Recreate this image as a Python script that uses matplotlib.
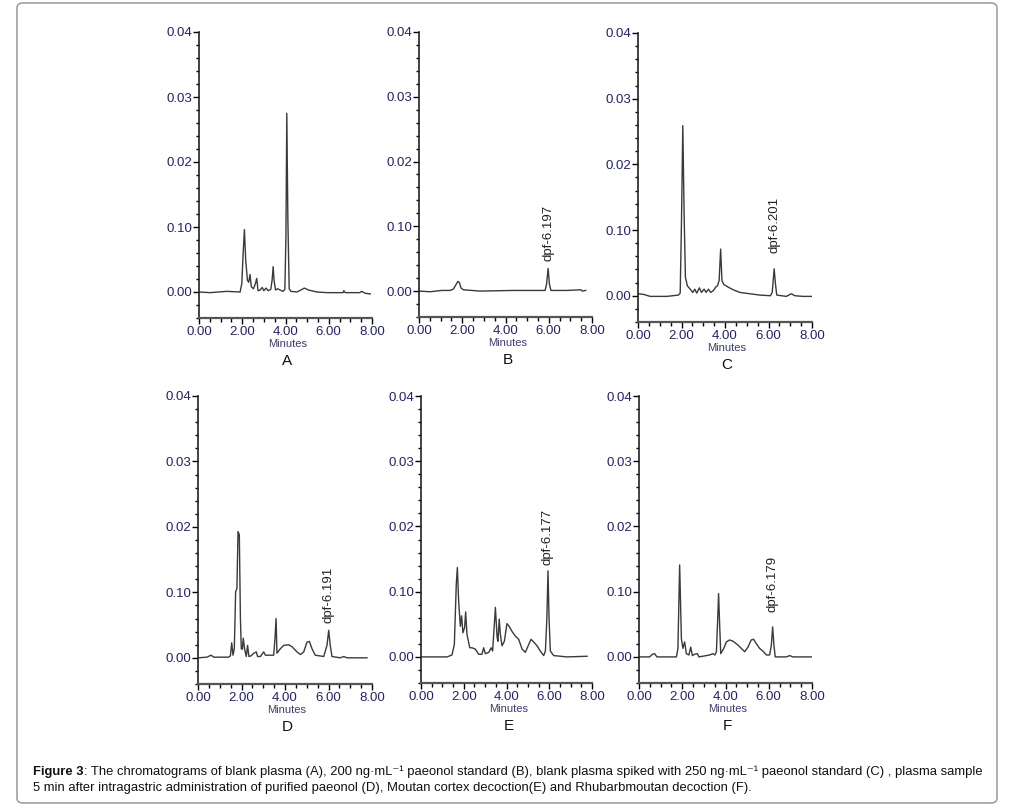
import matplotlib.pyplot as plt
from matplotlib.patches import FancyBboxPatch
from matplotlib.ticker import MultipleLocator, FixedLocator

plt.rcParams['font.family'] = ['Liberation Sans', 'DejaVu Sans']

# retention time (min) / absorbance
t_A = [0, 0.51, 1.28, 1.90, 1.98, 2.04, 2.10, 2.16, 2.24, 2.30, 2.36, 2.42, 2.52, 2.61, 2.67, 2.73,
       2.83, 2.92, 3.00, 3.10, 3.20, 3.32, 3.38, 3.43, 3.47, 3.54, 3.64, 3.75, 3.88, 3.97, 4.02,
       4.06, 4.11, 4.17, 4.25, 4.53, 4.76, 4.87, 5.07, 5.45, 5.92, 6.66, 6.70, 6.76, 7.43, 7.52,
       7.69, 7.92]
y_A = [0, -0.0001, 0.0001, 0, 0.0013, 0.0059, 0.0096, 0.0049, 0.0018, 0.0015, 0.0027, 0.0008,
       0.0005, 0.0013, 0.0021, 0.0002, 0.0003, 0.0007, 0.0002, 0.0006, 0.0002, 0.0004, 0.0018,
       0.0039, 0.0018, 0.0003, 0.0005, 0.0003, 0.0001, 0.0004, 0.0085, 0.0275, 0.0110, 0.0005,
       0.0001, 0, 0.0004, 0.0006, 0.0003, 0, -0.0001, -0.0001, 0.0002, -0.0001, -0.0001, 0.0001,
       -0.0002, -0.0003]

t_B = [0, 0.51, 1.05, 1.43, 1.59, 1.71, 1.80, 1.87, 1.94, 2.05, 2.82, 4.36, 5.83, 5.90, 5.97,
       6.03, 6.10, 6.83, 7.49, 7.55, 7.71]
y_B = [0, -0.0001, 0.0001, 0.0001, 0.0003, 0.0010, 0.0015, 0.0013, 0.0005, 0.0002, 0, 0.0001,
       0.0001, 0.0011, 0.0035, 0.0011, 0.0001, 0.0001, 0.0002, 0, 0.0001]

t_C = [0, 0.26, 0.56, 1.33, 1.86, 1.94, 2.00, 2.06, 2.12, 2.18, 2.27, 2.40, 2.52, 2.61, 2.70,
       2.82, 2.92, 3.04, 3.13, 3.24, 3.34, 3.47, 3.57, 3.65, 3.73, 3.80, 3.86, 3.95, 4.15, 4.38,
       4.69, 5.14, 5.60, 6.09, 6.17, 6.26, 6.32, 6.38, 6.82, 7.05, 7.21, 7.59, 8.00]
y_C = [0.0003, 0.0002, -0.0001, -0.0001, 0.0001, 0.0004, 0.0114, 0.0259, 0.0125, 0.0028, 0.0015,
       0.0010, 0.0005, 0.0010, 0.0004, 0.0012, 0.0005, 0.0010, 0.0005, 0.0010, 0.0005, 0.0008,
       0.0013, 0.0015, 0.0023, 0.0071, 0.0023, 0.0017, 0.0013, 0.0009, 0.0005, 0.0003, 0.0001,
       0, 0.0005, 0.0041, 0.0018, 0.0001, -0.0001, 0.0003, 0, -0.0001, -0.0001]

t_D = [0, 0.41, 0.60, 0.72, 1.41, 1.49, 1.55, 1.61, 1.67, 1.73, 1.79, 1.84, 1.90, 1.95, 1.99,
       2.04, 2.08, 2.15, 2.22, 2.28, 2.34, 2.44, 2.56, 2.68, 2.74, 2.87, 3.02, 3.10, 3.48, 3.54,
       3.59, 3.63, 3.79, 3.94, 4.17, 4.32, 4.55, 4.71, 4.86, 5.01, 5.12, 5.24, 5.39, 5.78, 5.93,
       6.01, 6.08, 6.16, 6.54, 6.70, 6.85, 7.77]
y_D = [0, 0.0001, 0.0004, 0.0001, 0.0001, 0.0003, 0.0023, 0.0004, 0.0014, 0.0101, 0.0106, 0.0193,
       0.0188, 0.0060, 0.0014, 0.0013, 0.0030, 0.0012, 0.0002, 0.0019, 0.0002, 0.0003, 0.0007,
       0.0009, 0.0002, 0.0002, 0.0009, 0.0004, 0.0004, 0.0030, 0.0060, 0.0007, 0.0014, 0.0019,
       0.0020, 0.0017, 0.0009, 0.0005, 0.0009, 0.0024, 0.0025, 0.0014, 0.0004, 0.0002, 0.0019,
       0.0042, 0.0019, 0.0002, 0, 0.0002, 0, 0]

t_E = [0, 0.44, 1.22, 1.45, 1.56, 1.65, 1.70, 1.76, 1.84, 1.90, 1.96, 2.04, 2.09, 2.15, 2.28,
       2.39, 2.54, 2.70, 2.85, 2.93, 3.01, 3.17, 3.28, 3.35, 3.43, 3.48, 3.56, 3.60, 3.66, 3.71,
       3.79, 3.90, 4.02, 4.12, 4.26, 4.41, 4.57, 4.73, 4.88, 5.04, 5.15, 5.27, 5.43, 5.58, 5.74,
       5.82, 5.89, 5.94, 5.99, 6.05, 6.21, 6.83, 7.77]
y_E = [0, 0, 0, 0.0003, 0.0019, 0.0111, 0.0137, 0.0086, 0.0047, 0.0063, 0.0037, 0.0045, 0.0069,
       0.0035, 0.0014, 0.0014, 0.0012, 0.0004, 0.0004, 0.0014, 0.0005, 0.0007, 0.0014, 0.0009,
       0.0050, 0.0076, 0.0030, 0.0024, 0.0058, 0.0035, 0.0017, 0.0024, 0.0051, 0.0047, 0.0039,
       0.0032, 0.0027, 0.0012, 0.0007, 0.0019, 0.0027, 0.0023, 0.0017, 0.0009, 0.0002, 0.0009,
       0.0060, 0.0132, 0.0060, 0.0009, 0.0002, 0, 0.0001]

t_F = [0, 0.49, 0.62, 0.72, 0.83, 1.73, 1.80, 1.88, 1.96, 2.03, 2.11, 2.19, 2.31, 2.39, 2.47,
       2.57, 2.70, 2.77, 3.11, 3.27, 3.42, 3.51, 3.58, 3.64, 3.68, 3.73, 3.78, 3.92, 4.04, 4.19,
       4.35, 4.58, 4.73, 4.89, 5.04, 5.19, 5.30, 5.43, 5.58, 5.76, 5.89, 6.04, 6.12, 6.18, 6.24,
       6.30, 6.81, 6.97, 7.12, 8.00]
y_F = [0, 0, 0.0004, 0.0005, 0, 0, 0.0013, 0.0141, 0.0028, 0.0013, 0.0023, 0.0005, 0.0003,
       0.0015, 0.0002, 0.0004, 0.0005, 0, 0.0002, 0.0003, 0.0005, 0.0003, 0.0008, 0.0059, 0.0097,
       0.0049, 0.0005, 0.0013, 0.0023, 0.0026, 0.0024, 0.0018, 0.0013, 0.0008, 0.0015, 0.0026,
       0.0027, 0.0020, 0.0013, 0.0008, 0.0003, 0.0003, 0.0018, 0.0046, 0.0018, 0, 0, 0.0002, 0, 0]

panel_names = ["A", "B", "C", "D", "E", "F"]
times = [t_A, t_B, t_C, t_D, t_E, t_F]
signals = [y_A, y_B, y_C, y_D, y_E, y_F]

# peak labels (None = no label): text, time, height
peak_labels = [None,
               ("dpf-6.197", 5.97, 0.0035),
               ("dpf-6.201", 6.26, 0.0041),
               ("dpf-6.191", 6.01, 0.0042),
               ("dpf-6.177", 5.94, 0.0132),
               ("dpf-6.179", 6.18, 0.0046)]
label_gap = [0, 7, 16, 7, 6, 15]  # px between peak top and label

y_ticks = [0.00, 0.01, 0.02, 0.03, 0.04]
y_tick_labels = ["0.00", "0.10", "0.02", "0.03", "0.04"]
x_ticks = [0, 2, 4, 6, 8]
x_tick_labels = ["0.00", "2.00", "4.00", "6.00", "8.00"]

caption1 = ("The chromatograms of blank plasma (A), 200 ng\u00b7mL\u207b\u00b9 paeonol standard (B), "
            "blank plasma spiked with 250 ng\u00b7mL\u207b\u00b9 paeonol standard (C) , plasma sample")
caption2 = ("5 min after intragastric administration of purified paeonol (D), Moutan cortex "
            "decoction(E) and Rhubarbmoutan decoction (F).")

W, H = 1014, 810
fig = plt.figure(figsize=(W / 100, H / 100), dpi=100)

# rounded frame around the figure
frame = FancyBboxPatch((17 / W, 1 - 803 / H), (997 - 17) / W, (803 - 3) / H,
                       boxstyle="round,pad=0,rounding_size=0.006",
                       transform=fig.transFigure, facecolor="none",
                       edgecolor="#a0a0a0", linewidth=1.2, zorder=-1)
fig.patches.append(frame)

# axes boxes in pixels: left, right, top(0.04), bottom(-0.004)
boxes = [(199, 372, 32, 318), (419, 592, 32, 317), (638, 812, 33, 322),
         (198, 372, 396, 684), (421, 592, 396, 683), (639, 812, 396, 683)]

tick_col = "#22226a"
for i in range(6):
    l, r, tp, bt = boxes[i]
    ax = fig.add_axes([l / W, 1 - bt / H, (r - l) / W, (bt - tp) / H])
    ax.plot(times[i], signals[i], color="#3a3a3a", linewidth=1.0)
    ax.set_xlim(0, 8)
    ax.set_ylim(-0.004, 0.04)
    ax.patch.set_alpha(0)
    ax.spines['top'].set_visible(False)
    ax.spines['right'].set_visible(False)
    ax.spines['left'].set_color("#222222")
    ax.spines['left'].set_linewidth(1.2)
    ax.spines['bottom'].set_color("#555555")
    ax.spines['bottom'].set_linewidth(1.6)
    ax.yaxis.set_major_locator(FixedLocator(y_ticks))
    ax.set_yticklabels(y_tick_labels)
    ax.yaxis.set_minor_locator(MultipleLocator(0.002))
    ax.set_xticks(x_ticks)
    ax.set_xticklabels(x_tick_labels)
    ax.xaxis.set_minor_locator(MultipleLocator(0.5))
    ax.tick_params(axis='y', which='major', length=4, width=1, pad=1,
                   labelsize=9.5, labelcolor=tick_col)
    ax.tick_params(axis='y', which='minor', length=2, width=1)
    ax.tick_params(axis='x', which='major', length=4, width=1, pad=2,
                   labelsize=9.5, labelcolor=tick_col)
    ax.tick_params(axis='x', which='minor', length=3, width=1)

    cx = ((l + r) / 2 + 2) / W
    fig.text(cx, 1 - (bt + 26) / H, "Minutes", ha='center', va='center',
             fontsize=8, color="#3c3c70")
    fig.text(cx, 1 - (bt + 43) / H, panel_names[i], ha='center', va='center',
             fontsize=11, color="#111111")

    if peak_labels[i] is not None:
        txt, pt, pv = peak_labels[i]
        ax.annotate(txt, xy=(pt, pv), xytext=(0, label_gap[i] * 0.72),
                    textcoords='offset points', rotation=90,
                    ha='center', va='bottom', fontsize=9.5, color="#222222")

# caption
cap_size = 9.4
t1 = fig.text(33 / W, 1 - 772 / H, "Figure 3", fontsize=cap_size, fontweight='bold',
              va='center', ha='left', color="#111111")
fig.text(33 / W, 1 - 788 / H, caption2, fontsize=cap_size, va='center', ha='left',
         color="#111111")
plt.annotate(": " + caption1, xy=(1, 0), xycoords=t1, va='bottom', ha='left',
             fontsize=cap_size, color="#111111", annotation_clip=False)

plt.savefig("out.png", dpi=100)
